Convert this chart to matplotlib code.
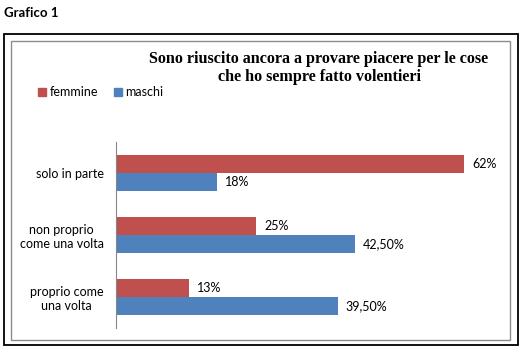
import matplotlib.pyplot as plt
from matplotlib.patches import Rectangle, Patch

categorie = ['proprio come\nuna volta', 'non proprio\ncome una volta', 'solo in parte']
femmine = [13, 25, 62]
maschi = [39.5, 42.5, 18]
etichette_f = ['13%', '25%', '62%']
etichette_m = ['39,50%', '42,50%', '18%']

rosso = '#C0504D'
blu = '#4F81BD'
font_sans = ['Lato', 'DejaVu Sans']

W, H = 521, 351
fig = plt.figure(figsize=(W / 100, H / 100), dpi=100)

# cornici
fig.patches.append(Rectangle((4 / W, 1 - 345 / H), 514 / W, 311 / H, transform=fig.transFigure,
                             fill=False, edgecolor='black', linewidth=1.3))
fig.patches.append(Rectangle((11 / W, 1 - 340 / H), 499 / W, 299 / H, transform=fig.transFigure,
                             fill=False, edgecolor='#8c8c8c', linewidth=1.0))

fig.text(4 / W, 1 - 13 / H, 'Grafico 1', fontsize=9.5, fontweight='bold', family=font_sans,
         va='center', ha='left')

fig.text(319 / W, 1 - 68 / H, 'Sono riuscito ancora a provare piacere per le cose\nche ho sempre fatto volentieri',
         fontsize=11.6, fontweight='bold', family=['Liberation Serif'], ha='center', va='center',
         linespacing=1.1)

ax = fig.add_axes([116 / W, 23 / H, 393 / W, 186 / H])
y = range(len(categorie))
h = 0.29
ax.barh([i + h / 2 for i in y], femmine, height=h, color=rosso)
ax.barh([i - h / 2 for i in y], maschi, height=h, color=blu)

for i in y:
    ax.text(femmine[i] + 1.4, i + h / 2, etichette_f[i], va='center', ha='left', fontsize=9, family=font_sans)
    ax.text(maschi[i] + 1.4, i - h / 2, etichette_m[i], va='center', ha='left', fontsize=9, family=font_sans)

ax.set_xlim(0, 70)
ax.set_ylim(-0.5, 2.5)
ax.set_yticks(list(y))
ax.set_yticklabels(categorie, fontsize=9, family=font_sans, multialignment='center')
ax.tick_params(axis='y', length=0, pad=9)
ax.set_xticks([])
for s in ['top', 'right', 'bottom']:
    ax.spines[s].set_visible(False)
ax.spines['left'].set_color('#868686')
ax.spines['left'].set_linewidth(0.8)

handles = [Patch(color=rosso, label='femmine'), Patch(color=blu, label='maschi')]
fig.legend(handles=handles, loc='center left', bbox_to_anchor=(27 / W, 1 - 92 / H), ncol=2,
           frameon=False, handlelength=0.6, handleheight=0.6, handletextpad=0.3, columnspacing=1.3,
           prop={'family': font_sans, 'size': 9})

fig.savefig('out.png', dpi=100)
